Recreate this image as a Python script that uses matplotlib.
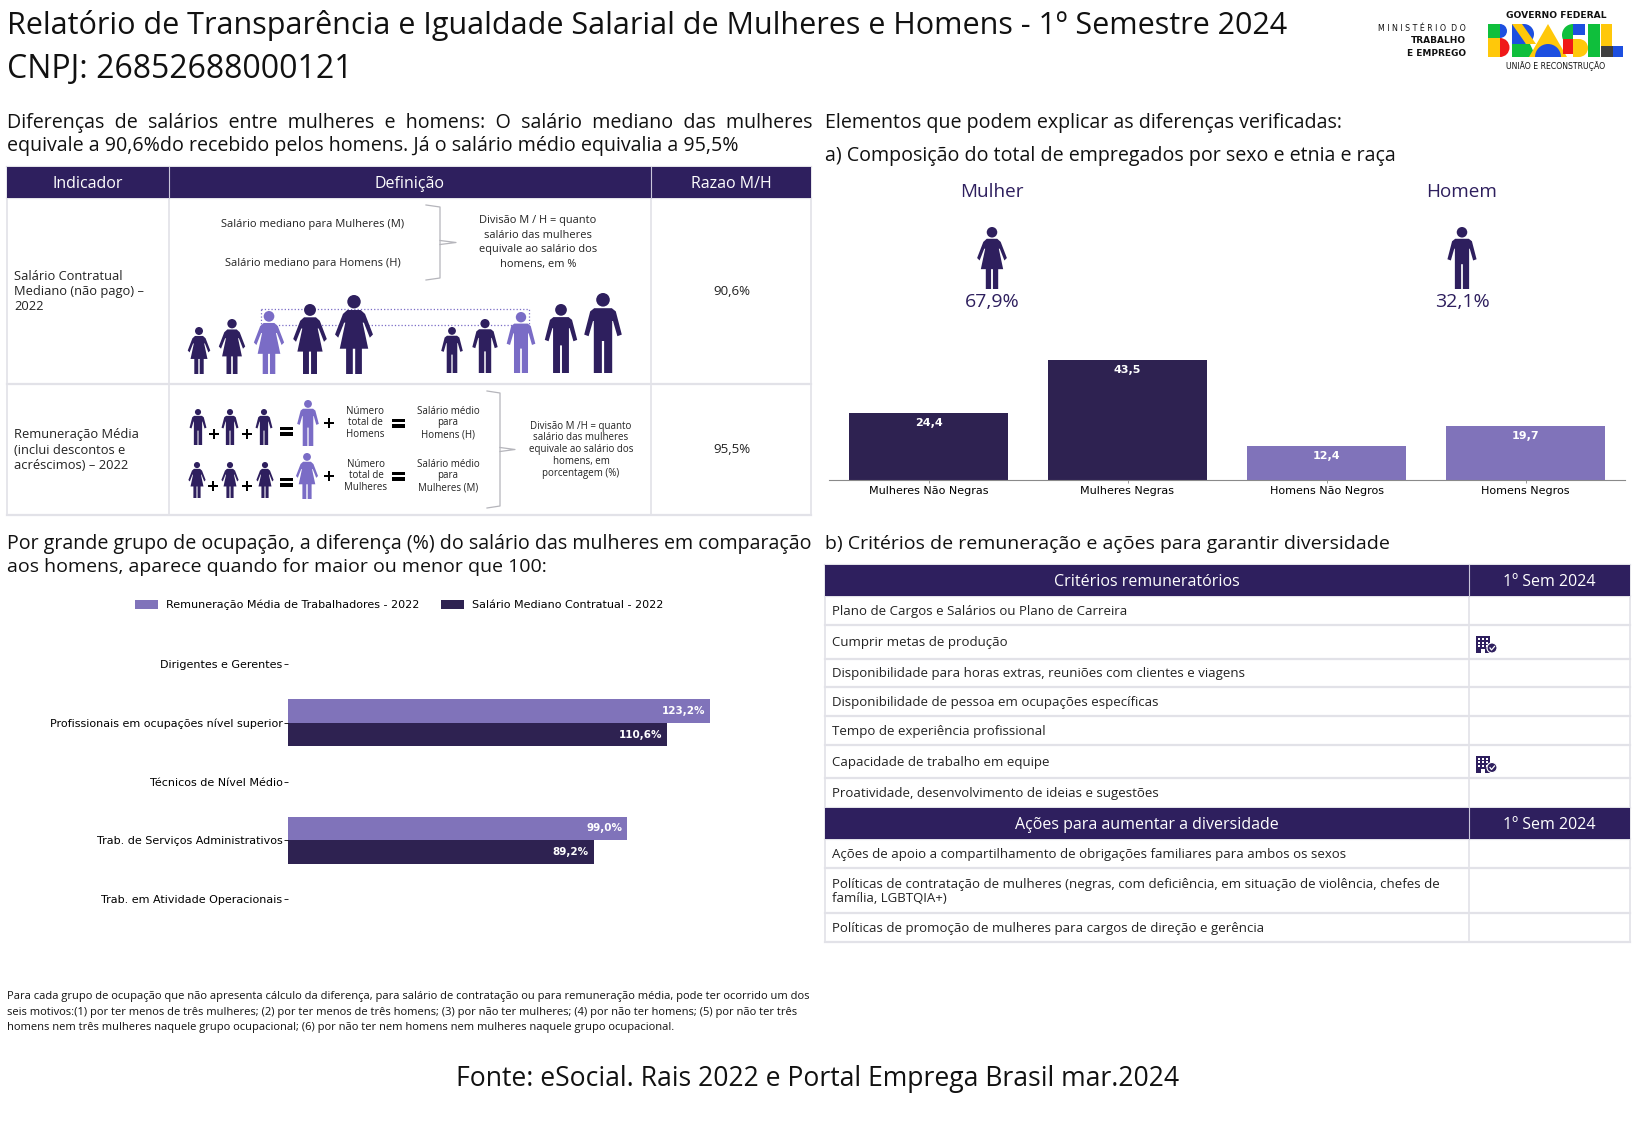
import numpy as np
import matplotlib
matplotlib.use("Agg")
import matplotlib.pyplot as plt
from matplotlib.patches import Circle, Polygon, Rectangle, Wedge

W, H = 1637, 1123
DARK = "#2E1F5E"
BAR_DARK = "#2E2251"
PURPLE = "#8073BA"
ICON_LIGHT = "#7A6CC6"
GRID = "#E2E2E8"
SANS = "Open Sans"

# chart data
comp_labels = ["Mulheres Não Negras", "Mulheres Negras", "Homens Não Negros", "Homens Negros"]
comp_values = [24.4, 43.5, 12.4, 19.7]
sex_labels = ["Mulher", "Homem"]
sex_share = ["67,9%", "32,1%"]

occupations = [
    "Dirigentes e Gerentes",
    "Profissionais em ocupações nível superior",
    "Técnicos de Nível Médio",
    "Trab. de Serviços Administrativos",
    "Trab. em Atividade Operacionais",
]
rem_media = [np.nan, 123.2, np.nan, 99.0, np.nan]
sal_mediano = [np.nan, 110.6, np.nan, 89.2, np.nan]

criterios = [
    "Plano de Cargos e Salários ou Plano de Carreira",
    "Cumprir metas de produção",
    "Disponibilidade para horas extras, reuniões com clientes e viagens",
    "Disponibilidade de pessoa em ocupações específicas",
    "Tempo de experiência profissional",
    "Capacidade de trabalho em equipe",
    "Proatividade, desenvolvimento de ideias e sugestões",
]
criterios_marcados = [1, 5]
acoes = [
    "Ações de apoio a compartilhamento de obrigações familiares para ambos os sexos",
    "Políticas de contratação de mulheres (negras, com deficiência, em situação de violência, chefes de\nfamília, LGBTQIA+)",
    "Políticas de promoção de mulheres para cargos de direção e gerência",
]
nota = [
    "Para cada grupo de ocupação que não apresenta cálculo da diferença, para salário de contratação ou para remuneração média, pode ter ocorrido um dos",
    "seis motivos:(1) por ter menos de três mulheres; (2) por ter menos de três homens; (3) por não ter mulheres; (4) por não ter homens; (5) por não ter três",
    "homens nem três mulheres naquele grupo ocupacional; (6) por não ter nem homens nem mulheres naquele grupo ocupacional.",
]

WOMAN = [(0.0, 0.19), (0.085, 0.19), (0.14, 0.24), (0.24, 0.50), (0.20, 0.54), (0.125, 0.35), (0.11, 0.35),
         (0.18, 0.68), (0.10, 0.68), (0.10, 1.0), (0.015, 1.0), (0.015, 0.68), (0.0, 0.68)]
MAN = [(0.0, 0.19), (0.11, 0.19), (0.16, 0.23), (0.235, 0.52), (0.18, 0.54), (0.125, 0.35), (0.115, 0.35),
       (0.115, 1.0), (0.014, 1.0), (0.014, 0.6), (0.0, 0.6)]

fig = plt.figure(figsize=(W / 100, H / 100), dpi=100, facecolor="white")
bg = fig.add_axes([0, 0, 1, 1])
bg.set_xlim(0, W)
bg.set_ylim(H, 0)
bg.axis("off")


def txt(x, y, s, size=9, color="#111111", ha="left", family=SANS, weight="normal", **kw):
    return bg.text(x, y + size * 0.1, s, fontsize=size, color=color, ha=ha, va="center", family=family,
                   weight=weight, **kw)


def lines(x, ys, rows, size, ha="center", color="#222222"):
    for y, row in zip(ys, rows):
        txt(x, y, row, size=size, ha=ha, color=color)


def person(cx, top, bottom, shape, color):
    h = bottom - top
    half = [(cx + px * h, top + py * h) for px, py in shape]
    other = [(cx - px * h, top + py * h) for px, py in shape[::-1]]
    bg.add_patch(Polygon(half + other, closed=True, fc=color, ec="none"))
    bg.add_patch(Circle((cx, top + 0.085 * h), 0.085 * h, fc=color, ec="none"))


def plus(x, y, s=5):
    bg.add_patch(Rectangle((x - s, y - 1.4), 2 * s, 2.8, fc="black", ec="none"))
    bg.add_patch(Rectangle((x - 1.4, y - s), 2.8, 2 * s, fc="black", ec="none"))


def equals(x, y, s=6.5):
    bg.add_patch(Rectangle((x - s, y - 4.5), 2 * s, 3.6, fc="black", ec="none"))
    bg.add_patch(Rectangle((x - s, y + 0.9), 2 * s, 3.6, fc="black", ec="none"))


def brace(x0, x1, tip, y0, y1):
    ym = (y0 + y1) / 2
    bg.plot([x0, x1, x1, x0], [y0, y0 + 2, y1 - 2, y1], color="#B5B5BB", lw=0.9)
    bg.plot([x1, tip, x1], [ym - 2, ym, ym + 2], color="#B5B5BB", lw=0.9)


def grid_table(xs, ys):
    for y in ys:
        bg.plot([xs[0], xs[-1]], [y, y], color=GRID, lw=1.6, zorder=1)
    for x in xs:
        bg.plot([x, x], [ys[0], ys[-1]], color=GRID, lw=1.2, zorder=1)


def header(xs, y0, y1, labels, size=11.5):
    bg.add_patch(Rectangle((xs[0], y0), xs[-1] - xs[0], y1 - y0, fc=DARK, ec="none", zorder=2))
    for x in xs[1:-1]:
        bg.plot([x, x], [y0, y1], color="#C9C6DA", lw=0.8, zorder=3)
    for a, b, lab in zip(xs[:-1], xs[1:], labels):
        txt((a + b) / 2, (y0 + y1) / 2, lab, size=size, color="white", ha="center", zorder=4)


def building(x, y):
    bg.add_patch(Rectangle((x, y), 14, 17, fc=DARK, ec="none"))
    for i in range(3):
        for j in range(3):
            bg.add_patch(Rectangle((x + 2 + i * 3.8, y + 2 + j * 3.6), 2, 2, fc="white", ec="none"))
    bg.add_patch(Rectangle((x + 5, y + 13), 4, 4, fc="white", ec="none"))
    bg.add_patch(Circle((x + 16, y + 12), 5, fc=DARK, ec="white", lw=0.8))
    bg.plot([x + 14, x + 15.5, x + 18.5], [y + 12, y + 14, y + 10.5], color="white", lw=0.9)


def logo():
    # BRASIL feito de blocos coloridos
    green, blue, yellow, red, grey = "#0FBF3C", "#1D4FE0", "#FFC80A", "#F01818", "#3F3F3F"
    y0, ym, y1 = 24, 38, 57
    bg.add_patch(Rectangle((1488, y0), 12, ym - y0, fc=green, ec="none"))
    bg.add_patch(Wedge((1500, (y0 + ym) / 2), 7, -90, 90, fc=blue, ec="none"))
    bg.add_patch(Rectangle((1488, ym), 12, y1 - ym, fc=yellow, ec="none"))
    bg.add_patch(Wedge((1500, (ym + y1) / 2), 9.5, -90, 90, fc=red, ec="none"))
    bg.add_patch(Rectangle((1512, y0), 12, 20, fc=blue, ec="none"))
    bg.add_patch(Wedge((1524, y0 + 10), 10, -90, 90, fc=blue, ec="none"))
    bg.add_patch(Polygon([(1512, y0), (1522, y0), (1536, 44), (1526, 44)], fc=yellow, ec="none"))
    bg.add_patch(Polygon([(1512, 44), (1530, 44), (1536, y1), (1512, y1)], fc=green, ec="none"))
    bg.add_patch(Polygon([(1548, y0), (1567, y1), (1529, y1)], fc=yellow, ec="none"))
    bg.add_patch(Wedge((1548, y1), 13, 180, 360, fc=blue, ec="none"))
    bg.add_patch(Wedge((1573, 35), 11, 90, 270, fc=green, ec="none"))
    bg.add_patch(Rectangle((1573, y0), 12, 11, fc=blue, ec="none"))
    bg.add_patch(Rectangle((1563, 39), 10, 15, fc=red, ec="none"))
    bg.add_patch(Rectangle((1573, 39), 6, 18, fc=yellow, ec="none"))
    bg.add_patch(Wedge((1579, 48), 9, -90, 90, fc=yellow, ec="none"))
    bg.add_patch(Rectangle((1588, y0), 12, y1 - y0, fc=green, ec="none"))
    bg.add_patch(Rectangle((1601, y0), 11, 22, fc=yellow, ec="none"))
    bg.add_patch(Rectangle((1601, 46), 12, 11, fc=grey, ec="none"))
    bg.add_patch(Rectangle((1613, 46), 10, 11, fc=blue, ec="none"))


# titulo
txt(7, 23, "Relatório de Transparência e Igualdade Salarial de Mulheres e Homens - 1º Semestre 2024", size=22)
txt(7, 67, "CNPJ: 26852688000121", size=23)
txt(1466, 28, "M I N I S T É R I O  D O", size=5.7, ha="right", family="DejaVu Sans")
txt(1466, 40, "TRABALHO", size=6.5, ha="right", family="DejaVu Sans", weight="bold")
txt(1466, 53, "E EMPREGO", size=6.5, ha="right", family="DejaVu Sans", weight="bold")
txt(1556, 15, "GOVERNO FEDERAL", size=6.6, ha="center", family="DejaVu Sans", weight="bold")
txt(1556, 66, "UNIÃO E RECONSTRUÇÃO", size=5.6, ha="center", family="DejaVu Sans")
logo()

# textos de secao
txt(7, 122, "Diferenças  de  salários  entre  mulheres  e  homens:  O  salário  mediano  das  mulheres", size=14.1)
txt(7, 145, "equivale a 90,6%do recebido pelos homens. Já o salário médio equivalia a 95,5%", size=14.1)
txt(825, 122, "Elementos que podem explicar as diferenças verificadas:", size=14.1)
txt(825, 155, "a) Composição do total de empregados por sexo e etnia e raça", size=14.1)
txt(7, 543, "Por grande grupo de ocupação, a diferença (%) do salário das mulheres em comparação", size=14.1)
txt(7, 566, "aos homens, aparece quando for maior ou menor que 100:", size=14)
txt(825, 543, "b) Critérios de remuneração e ações para garantir diversidade", size=14)

# tabela de definicao
xs1 = [7, 169, 651, 811]
grid_table(xs1, [167, 198, 384, 515])
header(xs1, 167, 198, ["Indicador", "Definição", "Razao M/H"])
lines(14, [276, 291, 306], ["Salário Contratual", "Mediano (não pago) –", "2022"], 9.3, ha="left")
lines(14, [434, 450, 465], ["Remuneração Média", "(inclui descontos e", "acréscimos) – 2022"], 9.3, ha="left")
txt(732, 291, "90,6%", size=9.5, ha="center", color="#222222")
txt(732, 449, "95,5%", size=9.5, ha="center", color="#222222")

txt(313, 224, "Salário mediano para Mulheres (M)", size=8, ha="center", color="#222222")
txt(313, 263, "Salário mediano para Homens (H)", size=8, ha="center", color="#222222")
brace(426, 440, 456, 205, 280)
lines(538, [220, 235, 249, 264], ["Divisão M / H = quanto", "salário das mulheres", "equivale ao salário dos", "homens, em %"], 7.9)

bg.add_patch(Rectangle((261, 309), 268, 16, fc="none", ec=ICON_LIGHT, lw=0.9, ls=":"))
for cx, top, col in zip([199, 232, 269, 310, 354], [327, 319, 311, 304, 295], [DARK, DARK, ICON_LIGHT, DARK, DARK]):
    person(cx, top, 374, WOMAN, col)
for cx, top, col in zip([452, 485, 521, 561, 603], [327, 319, 312, 304, 293], [DARK, DARK, ICON_LIGHT, DARK, DARK]):
    person(cx, top, 373, MAN, col)

for cx in [198, 230, 264]:
    person(cx, 409, 445, MAN, DARK)
person(308, 400, 446, MAN, ICON_LIGHT)
for cx in [197, 230, 265]:
    person(cx, 462, 498, WOMAN, DARK)
person(307, 453, 499, WOMAN, ICON_LIGHT)
plus(214, 434)
plus(247, 434)
equals(286, 431)
plus(329, 423)
equals(398, 423)
plus(213, 486)
plus(247, 486)
equals(286, 482)
plus(329, 476)
equals(398, 476)
lines(365, [411, 422, 434], ["Número", "total de", "Homens"], 7)
lines(448, [411, 422, 434], ["Salário médio", "para", "Homens (H)"], 7)
lines(366, [464, 475, 487], ["Número", "total de", "Mulheres"], 7)
lines(448, [464, 475, 487], ["Salário médio", "para", "Mulheres (M)"], 7)
brace(487, 500, 515, 391, 508)
lines(581, [426, 437, 449, 461, 473],
      ["Divisão M /H = quanto", "salário das mulheres", "equivale ao salário dos", "homens, em", "porcentagem (%)"], 7)

# composicao por sexo
for cx, lab, share, shape in zip([992, 1462], sex_labels, sex_share, [WOMAN, MAN]):
    txt(cx, 191, lab, size=13.6, ha="center", color=DARK)
    person(cx, 227, 289, shape, DARK)
    txt(cx, 301, share, size=14, ha="center", color=DARK)

ax_comp = fig.add_axes([829 / W, 1 - 480 / H, 796 / W, 138 / H], facecolor="none")
comp_colors = [BAR_DARK, BAR_DARK, PURPLE, PURPLE]
ax_comp.bar(comp_labels, comp_values, width=0.8, color=comp_colors)
for i, v in enumerate(comp_values):
    ax_comp.annotate(f"{v:.1f}".replace(".", ","), (i, v), xytext=(0, -7.5), textcoords="offset points",
                     ha="center", va="center", color="white", fontsize=8, weight="bold")
ax_comp.set_xlim(-0.5, 3.5)
ax_comp.set_ylim(0, 50)
ax_comp.set_yticks([])
for side in ["top", "left", "right"]:
    ax_comp.spines[side].set_visible(False)
ax_comp.spines["bottom"].set_color("#8A8A8A")
ax_comp.tick_params(axis="x", labelsize=8, length=2, width=0.6, color="#8A8A8A", pad=2)

# diferenca por grupo de ocupacao
ax_occ = fig.add_axes([288 / W, 1 - 928 / H, 521 / W, 293 / H], facecolor="none")
ypos = np.arange(len(occupations))
ax_occ.barh(ypos - 0.2, rem_media, height=0.4, color=PURPLE, label="Remuneração Média de Trabalhadores - 2022")
ax_occ.barh(ypos + 0.2, sal_mediano, height=0.4, color=BAR_DARK, label="Salário Mediano Contratual - 2022")
for offset, series in [(-0.2, rem_media), (0.2, sal_mediano)]:
    for y, v in zip(ypos, series):
        if not np.isnan(v):
            ax_occ.text(v - 1.5, y + offset, f"{v:.1f}%".replace(".", ","), ha="right", va="center",
                        color="white", fontsize=7.5, weight="bold")
ax_occ.set_yticks(ypos)
ax_occ.set_yticklabels(occupations)
ax_occ.set_xlim(0, 152)
ax_occ.set_ylim(4.5, -0.5)
ax_occ.set_xticks([])
for side in ax_occ.spines:
    ax_occ.spines[side].set_visible(False)
ax_occ.tick_params(axis="y", labelsize=8, length=3, width=0.6, pad=1)
ax_occ.legend(loc="center", bbox_to_anchor=(399 / W, 1 - 605 / H), bbox_transform=fig.transFigure, ncol=2,
              frameon=False, fontsize=8, handlelength=2.1, handleheight=0.8, columnspacing=1.9, handletextpad=0.7)

# tabela de criterios
xs2 = [825, 1469, 1630]
rows2 = [565, 596, 625, 659, 687, 716, 745, 778, 808, 839, 868, 913, 942]
grid_table(xs2, rows2)
header(xs2, rows2[0], rows2[1], ["Critérios remuneratórios", "1º Sem 2024"])
header(xs2, rows2[8], rows2[9], ["Ações para aumentar a diversidade", "1º Sem 2024"])
for i, lab in enumerate(criterios):
    txt(832, (rows2[i + 1] + rows2[i + 2]) / 2, lab, size=9.5, color="#222222")
for i, lab in enumerate(acoes):
    txt(832, (rows2[i + 9] + rows2[i + 10]) / 2, lab, size=9.5, color="#222222", linespacing=1.15)
for i in criterios_marcados:
    building(1476, (rows2[i + 1] + rows2[i + 2]) / 2 - 6)

# nota e fonte
lines(7, [996, 1012, 1027], nota, 8, ha="left", color="#111111")
txt(818, 1077, "Fonte: eSocial. Rais 2022 e Portal Emprega Brasil mar.2024", size=19.1, ha="center")

fig.savefig("out.png", dpi=100, facecolor="white")
